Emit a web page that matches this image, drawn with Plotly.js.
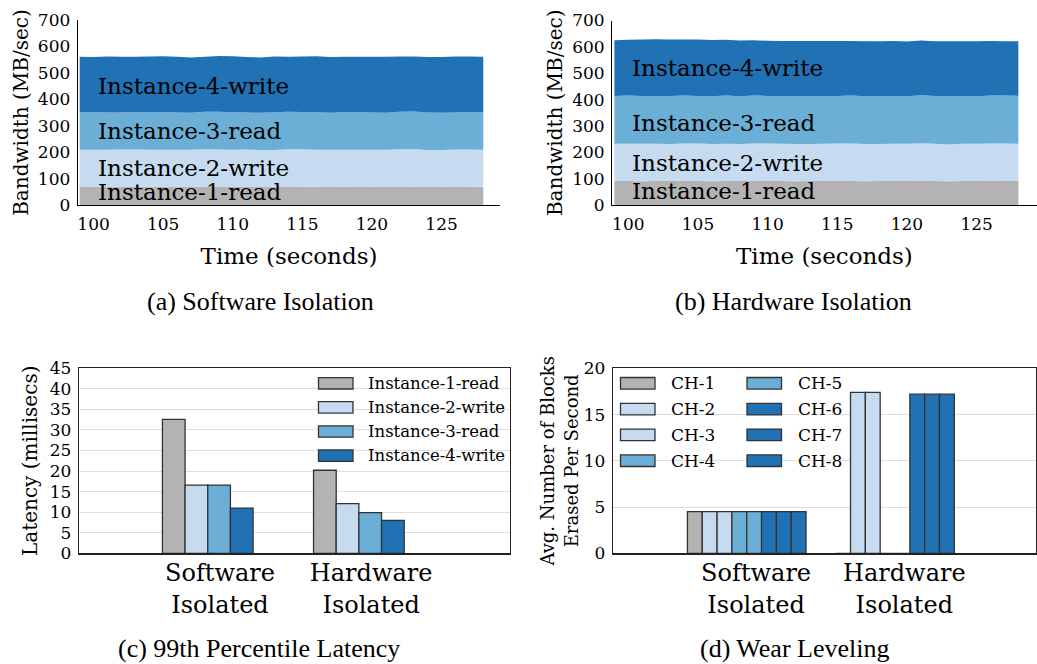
<!DOCTYPE html>
<html>
<head>
<meta charset="utf-8">
<script src="https://cdn.plot.ly/plotly-3.0.1.min.js"></script>
<style>html,body{margin:0;padding:0;background:#fff;}#chart{width:1037px;height:664px;}</style>
</head>
<body>
<div id="chart"></div>
<script>
// ---------------- DATA ----------------
const times = [99,100,101,102,103,104,105,106,107,108,109,110,111,112,113,114,115,116,117,118,119,120,121,122,123,124,125,126,127,128];
const instanceNames = ["Instance-1-read","Instance-2-write","Instance-3-read","Instance-4-write"];

// (a) Software isolation bandwidth (MB/sec), stacked
const swInst1 = [68,69,70,69,68,69,70,69,68,69,70,70,69,68,69,70,69,69,70,69,68,69,70,70,69,68,69,70,69,69];
const swInst2 = [141,140,139,141,142,140,139,140,141,142,140,139,141,140,139,141,142,140,139,140,141,140,139,141,142,140,139,140,141,140];
const swInst3 = [142,143,141,140,142,143,142,141,140,142,143,142,140,141,143,142,141,142,140,142,143,141,140,142,143,142,141,140,142,142];
const swInst4 = [210,208,212,211,209,210,212,211,209,208,211,212,210,209,211,208,210,212,211,210,209,211,212,209,208,210,211,212,210,210];

// (b) Hardware isolation bandwidth (MB/sec), stacked
const hwInst1 = [91,91,90,91,91,92,91,90,91,91,92,91,91,90,91,91,92,91,90,91,91,91,92,91,90,91,91,92,91,91];
const hwInst2 = [141,141,142,141,140,141,142,141,141,140,141,142,141,141,140,141,141,142,141,140,141,141,142,141,140,141,141,141,142,141];
const hwInst3 = [182,183,182,182,183,182,181,182,183,182,182,181,182,183,182,182,181,182,182,183,182,181,182,182,183,182,181,182,182,182];
const hwInst4 = [211,212,214,215,214,213,214,213,212,211,210,209,208,208,209,208,208,207,208,207,208,207,208,207,208,207,208,207,206,207];

// (c) 99th percentile latency (millisecs): [Software Isolated, Hardware Isolated]
const groupLabels = ["Software<br>Isolated","Hardware<br>Isolated"];
const latInst1 = [32.6, 20.2];
const latInst2 = [16.6, 12.1];
const latInst3 = [16.6, 9.9];
const latInst4 = [11.0, 8.0];

// (d) Wear leveling: avg blocks erased per second, per channel
const channelNames = ["CH-1","CH-2","CH-3","CH-4","CH-5","CH-6","CH-7","CH-8"];
const wearSoftware = [4.5,4.5,4.5,4.5,4.5,4.5,4.5,4.5];
const wearHardware = [0,17.4,17.4,0,0,17.2,17.2,17.2];

const bwTicks = [0,100,200,300,400,500,600,700];
const timeTicks = [100,105,110,115,120,125];
const latTicks = [0,5,10,15,20,25,30,35,40,45];
const wearTicks = [0,5,10,15,20];

// ---------------- STYLE ----------------
const GRAY = "#b3b3b3", LIGHT = "#c6dbef", MID = "#6baed6", DARK = "#2171b5";
const instColors = [GRAY, LIGHT, MID, DARK];
const chColors = [GRAY, LIGHT, LIGHT, MID, MID, DARK, DARK, DARK];
const SERIF = "'DejaVu Serif', serif";
const CAPTION = "'Liberation Serif', 'Times New Roman', serif";
const W = 1037, H = 664;
const px = v => v / W, py = v => 1 - v / H;
const EDGE = "#333333";

const traces = [];
// (a)
[swInst1, swInst2, swInst3, swInst4].forEach((s, i) => traces.push({
  type: "scatter", x: times, y: s, stackgroup: "sw", mode: "none",
  fillcolor: instColors[i], name: instanceNames[i], xaxis: "x", yaxis: "y",
  showlegend: false, hoverinfo: "skip"
}));
// (b)
[hwInst1, hwInst2, hwInst3, hwInst4].forEach((s, i) => traces.push({
  type: "scatter", x: times, y: s, stackgroup: "hw", mode: "none",
  fillcolor: instColors[i], name: instanceNames[i], xaxis: "x2", yaxis: "y2",
  showlegend: false, hoverinfo: "skip"
}));
// (c)
const groupPos = groupLabels.map((_, i) => i);
[latInst1, latInst2, latInst3, latInst4].forEach((s, i) => traces.push({
  type: "bar", x: groupPos, y: s, width: 0.15, offset: -0.3 + i * 0.15,
  marker: {color: instColors[i], line: {color: EDGE, width: 1.3}},
  name: instanceNames[i], xaxis: "x3", yaxis: "y3", showlegend: false, hoverinfo: "skip"
}));
// (d)
channelNames.forEach((c, i) => traces.push({
  type: "bar", x: groupPos, y: [wearSoftware[i], wearHardware[i]], width: 0.1, offset: -0.4 + i * 0.1,
  marker: {color: chColors[i], line: {color: EDGE, width: 1.3}},
  name: c, xaxis: "x4", yaxis: "y4", showlegend: false, hoverinfo: "skip"
}));

const tickFont = {family: SERIF, size: 17, color: "#000"};
const topX = (dom, range, anchor) => ({
  domain: dom, range: range, tickvals: timeTicks, ticks: "", showgrid: false, zeroline: false,
  showline: true, linecolor: "#000", linewidth: 1.3, tickfont: tickFont, anchor: anchor, ticklabelstandoff: 3,
  title: {text: "Time (seconds)", font: {family: SERIF, size: 23, color: "#000"}, standoff: 15}
});
const topY = (dom, anchor) => ({
  domain: dom, range: [0, 700], tickvals: bwTicks, ticks: "", showgrid: false, zeroline: false,
  showline: true, linecolor: "#000", linewidth: 1.3, tickfont: tickFont, anchor: anchor, ticklabelstandoff: 3,
  title: {text: "Bandwidth (MB/sec)", font: {family: SERIF, size: 20, color: "#000"}}
});
const botX = (dom, anchor, off) => ({
  domain: dom, range: off.range, tickvals: groupPos.map(g => g + off.shift), ticktext: groupLabels,
  ticks: "", showgrid: false, zeroline: false, showline: true, mirror: true,
  linecolor: "#222", linewidth: 1.3, anchor: anchor, ticklabelstandoff: -2,
  tickfont: {family: SERIF, size: 24, color: "#000"}
});
const botY = (dom, anchor, range, tv, title, tsize, standoff) => {
  const t = {text: title, font: {family: SERIF, size: tsize, color: "#000"}};
  if (standoff !== undefined) t.standoff = standoff;
  return {
    domain: dom, range: range, tickvals: tv, ticks: "", showgrid: true, gridcolor: "#dedede",
    gridwidth: 1, zeroline: false, showline: true, mirror: true, linecolor: "#222", linewidth: 1.3,
    anchor: anchor, tickfont: tickFont, ticklabelstandoff: 3, title: t
  };
};

const shapes = [], annotations = [];
// area labels
const swLabelY = [50, 139, 280, 451];
const hwLabelY = [53, 158, 310, 519];
instanceNames.forEach((n, i) => {
  annotations.push({xref: "x", yref: "y", x: 100.15, y: swLabelY[i], text: n, showarrow: false,
    xanchor: "left", yanchor: "middle", font: {family: SERIF, size: 23, color: "#000"}});
  annotations.push({xref: "x2", yref: "y2", x: 100.1, y: hwLabelY[i], text: n, showarrow: false,
    xanchor: "left", yanchor: "middle", font: {family: SERIF, size: 23, color: "#000"}});
});
// legend (c)
instanceNames.forEach((n, i) => {
  const cy = 383.3 + i * 24.1;
  shapes.push({type: "rect", xref: "paper", yref: "paper", x0: px(318.5), x1: px(353), y0: py(cy - 5.7), y1: py(cy + 5.7),
    fillcolor: instColors[i], line: {color: EDGE, width: 1.3}});
  annotations.push({xref: "paper", yref: "paper", x: px(366), y: py(cy), text: n, showarrow: false,
    xanchor: "left", yanchor: "middle", font: {family: SERIF, size: 16.5, color: "#000"}});
});
// legend (d), two columns
channelNames.forEach((n, i) => {
  const col = Math.floor(i / 4), row = i % 4;
  const cy = 383.3 + row * 25.8;
  const sx = col === 0 ? 620.5 : 747;
  shapes.push({type: "rect", xref: "paper", yref: "paper", x0: px(sx), x1: px(sx + 34.5), y0: py(cy - 5.8), y1: py(cy + 5.8),
    fillcolor: chColors[i], line: {color: EDGE, width: 1.3}});
  annotations.push({xref: "paper", yref: "paper", x: px(sx + 48.5), y: py(cy), text: n, showarrow: false,
    xanchor: "left", yanchor: "middle", font: {family: SERIF, size: 17, color: "#000"}});
});
// captions
const captions = [["(a) Software Isolation", 260, 301.5], ["(b) Hardware Isolation", 793.5, 301.5],
                  ["(c) 99th Percentile Latency", 259, 648], ["(d) Wear Leveling", 794, 648]];
captions.forEach(c => annotations.push({xref: "paper", yref: "paper", x: px(c[1]), y: py(c[2]), text: c[0],
  showarrow: false, xanchor: "center", yanchor: "middle", font: {family: CAPTION, size: 26, color: "#000"}}));

const layout = {
  width: W, height: H, margin: {l: 0, r: 0, t: 0, b: 0}, paper_bgcolor: "#fff", plot_bgcolor: "rgba(0,0,0,0)",
  showlegend: false, font: {family: SERIF, color: "#000"},
  xaxis: topX([px(78), px(500)], [98.88, 129.2], "y"),
  yaxis: topY([py(205), py(20)], "x"),
  xaxis2: topX([px(612.3), px(1036.5)], [98.85, 129.3], "y2"),
  yaxis2: topY([py(205), py(20.5)], "x2"),
  xaxis3: botX([px(79), px(510)], "y3", {range: [-0.852, 2.0], shift: 0.081}),
  yaxis3: botY([py(553.3), py(368.3)], "x3", [0, 45], latTicks, "Latency (millisecs)", 20, 6),
  xaxis4: botX([px(613), px(1036)], "y4", {range: [-0.902, 1.951], shift: 0.063}),
  yaxis4: botY([py(553.3), py(368.3)], "x4", [0, 20], wearTicks, "Avg. Number of Blocks<br>Erased Per Second", 18),
  shapes: shapes, annotations: annotations
};
Plotly.newPlot("chart", traces, layout, {staticPlot: true, displayModeBar: false});
</script>
</body>
</html>
